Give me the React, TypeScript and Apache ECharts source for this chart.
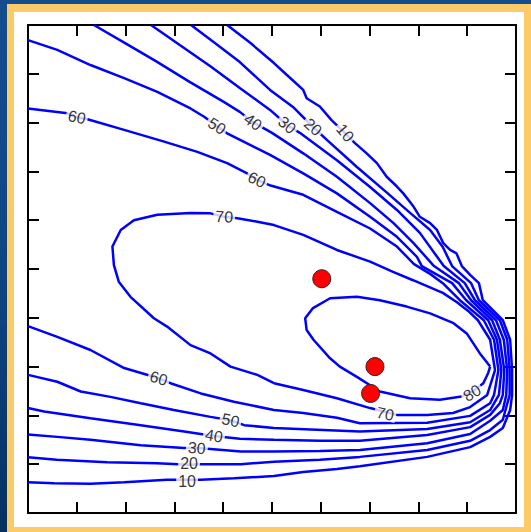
import React, { useEffect, useRef } from "react";
import * as echarts from "echarts";

// Contour polylines, [x, y] in plot units (0–10 on both axes)
const contour10: number[][] = [
  [4.08, 10.0], [4.56, 9.63], [5.04, 9.22], [5.3, 8.98], [5.64, 8.67], [5.71, 8.5], [5.98, 8.33], [6.22, 8.05],
  [6.46, 7.82], [6.7, 7.58], [6.94, 7.37], [7.15, 7.17], [7.35, 6.89], [7.56, 6.69], [7.69, 6.55], [7.9, 6.28],
  [8.03, 6.07], [8.24, 5.94], [8.38, 5.8], [8.51, 5.53], [8.65, 5.39], [8.78, 5.32], [8.89, 5.06], [9.06, 4.88],
  [9.24, 4.71], [9.32, 4.36], [9.73, 3.95], [9.88, 3.55], [9.92, 2.93], [9.92, 2.42], [9.88, 2.11], [9.73, 1.74],
  [9.47, 1.56], [9.06, 1.35], [8.18, 1.15], [6.8, 0.96], [6.33, 0.9], [5.64, 0.84], [5.04, 0.76], [4.22, 0.71],
  [3.54, 0.68], [2.85, 0.68], [1.97, 0.63], [1.28, 0.6], [0.53, 0.61], [0, 0.63],
];
const contour20: number[][] = [
  [3.34, 10.0], [3.83, 9.63], [4.34, 9.24], [4.96, 8.67], [5.43, 8.32], [5.84, 7.91], [6.13, 7.64], [6.74, 7.09],
  [7.36, 6.56], [7.83, 6.15], [8.24, 5.8], [8.5, 5.45], [8.69, 5.06], [9.08, 4.71], [9.24, 4.36], [9.67, 3.95],
  [9.82, 3.55], [9.87, 2.93], [9.87, 2.42], [9.73, 1.91], [9.47, 1.7], [9.06, 1.48], [8.18, 1.29], [6.8, 1.15],
  [5.98, 1.09], [5.04, 1.05], [4.36, 1.0], [3.54, 1.0], [3.3, 0.99], [2.64, 1.02], [1.62, 1.04], [0.59, 1.09], [0, 1.14],
];
const contour30: number[][] = [
  [2.52, 10.0], [3.11, 9.59], [3.73, 9.16], [4.34, 8.71], [4.96, 8.26], [5.31, 7.95], [5.57, 7.79], [6.33, 7.23],
  [7.01, 6.68], [7.56, 6.21], [8.03, 5.74], [8.52, 5.06], [8.95, 4.71], [9.16, 4.36], [9.59, 3.95], [9.75, 3.55],
  [9.82, 2.93], [9.8, 2.42], [9.73, 2.11], [9.47, 1.89], [9.06, 1.62], [8.18, 1.43], [6.8, 1.29], [5.98, 1.27],
  [5.04, 1.26], [4.36, 1.26], [3.74, 1.31], [3.46, 1.33], [3.2, 1.33], [2.31, 1.39], [1.28, 1.5], [0.6, 1.56], [0, 1.61],
];
const contour40: number[][] = [
  [1.35, 10.0], [1.99, 9.63], [2.62, 9.26], [3.32, 8.83], [4.02, 8.42], [4.34, 8.22], [4.61, 8.01], [5.0, 7.79],
  [5.64, 7.37], [6.33, 6.89], [7.01, 6.35], [7.49, 5.94], [7.9, 5.53], [8.32, 5.06], [8.83, 4.71], [9.08, 4.36],
  [9.51, 3.95], [9.67, 3.55], [9.76, 2.93], [9.73, 2.42], [9.67, 2.25], [9.47, 2.01], [9.06, 1.76], [8.18, 1.6],
  [6.8, 1.48], [5.98, 1.48], [5.04, 1.5], [4.34, 1.52], [3.81, 1.58], [3.2, 1.67], [2.31, 1.8], [1.28, 1.94],
  [0.33, 2.08], [0, 2.15],
];
const contour50: number[][] = [
  [0, 9.69], [0.6, 9.49], [1.28, 9.18], [1.97, 8.91], [2.65, 8.63], [3.33, 8.29], [3.61, 8.12], [3.87, 7.93],
  [4.08, 7.78], [4.56, 7.54], [4.96, 7.34], [5.64, 6.96], [6.33, 6.55], [7.01, 6.07], [7.56, 5.66], [7.97, 5.25],
  [8.07, 5.06], [8.69, 4.71], [8.98, 4.36], [9.43, 3.95], [9.61, 3.55], [9.7, 2.93], [9.65, 2.42], [9.47, 2.11],
  [9.06, 1.86], [8.18, 1.72], [6.8, 1.67], [5.04, 1.74], [4.43, 1.8], [4.15, 1.9], [3.74, 1.97], [2.99, 2.11],
  [2.31, 2.25], [1.69, 2.38], [1.08, 2.49], [0.6, 2.69], [0, 2.83],
];
const contour60: number[][] = [
  [0, 8.29], [0.81, 8.19], [1.0, 8.11], [1.22, 8.07], [1.97, 7.85], [2.79, 7.61], [3.47, 7.4], [4.08, 7.17],
  [4.49, 6.96], [4.69, 6.83], [4.97, 6.71], [5.64, 6.52], [6.33, 6.17], [7.01, 5.83], [7.56, 5.46], [7.91, 5.1],
  [8.24, 4.9], [8.5, 4.71], [8.85, 4.36], [9.34, 3.95], [9.55, 3.55], [9.64, 2.93], [9.55, 2.42], [9.47, 2.25],
  [9.06, 1.99], [8.18, 1.85], [6.8, 1.84], [6.33, 1.95], [5.64, 2.05], [5.04, 2.11], [4.22, 2.28], [3.54, 2.45],
  [2.92, 2.66], [2.68, 2.76], [1.97, 2.97], [1.28, 3.34], [0.6, 3.61], [0, 3.83],
];
const contour70: number[][] = [
  [5.04, 2.66], [4.7, 2.83], [4.15, 3.0], [3.74, 3.27], [3.33, 3.44], [2.85, 3.82], [2.58, 3.99], [2.1, 4.43],
  [1.86, 4.74], [1.76, 5.08], [1.73, 5.46], [1.9, 5.8], [2.17, 6.0], [2.65, 6.11], [3.33, 6.15], [3.74, 6.14],
  [4.02, 6.07], [4.29, 6.04], [4.7, 5.97], [5.04, 5.9], [5.64, 5.7], [6.33, 5.39], [7.01, 5.15], [7.48, 4.94],
  [7.89, 4.77], [8.5, 4.51], [8.79, 4.32], [9.02, 4.14], [9.22, 3.95], [9.47, 3.55], [9.57, 2.93], [9.41, 2.42],
  [9.06, 2.17], [8.71, 2.05], [8.18, 2.01], [7.56, 2.01], [7.01, 2.15], [6.33, 2.35], [5.64, 2.52], [5.04, 2.66],
];
const contour80: number[][] = [
  [9.47, 3.0], [9.26, 3.27], [8.99, 3.68], [8.72, 3.89], [8.24, 4.09], [7.76, 4.23], [7.21, 4.36], [6.74, 4.43],
  [6.19, 4.4], [5.84, 4.2], [5.68, 3.99], [5.71, 3.75], [5.85, 3.55], [6.19, 3.17], [6.39, 3.0], [6.74, 2.79],
  [7.21, 2.49], [7.83, 2.35], [8.44, 2.32], [8.85, 2.38], [9.1, 2.48], [9.33, 2.66], [9.43, 2.87], [9.47, 3.0],
];

// Contour labels
const labelTexts = ["60", "50", "40", "30", "20", "10", "60", "70", "60", "50", "40", "30", "20", "10", "70", "80"];
const labelPositions: number[][] = [
  [1.0, 8.11], [3.87, 7.93], [4.61, 8.01], [5.31, 7.95], [5.84, 7.91], [6.5, 7.79], [4.69, 6.83], [4.02, 6.07],
  [2.68, 2.76], [4.15, 1.9], [3.81, 1.58], [3.46, 1.33], [3.3, 1.02], [3.26, 0.64], [7.32, 2.03], [9.1, 2.46],
];
const labelAngles = [-12, -32, -35, -40, -42, -50, -25, -3, -15, -12, -10, -5, 0, 0, -12, 30];

// Measurement points (red dots)
const dotPoints: number[][] = [[6.02, 4.8], [7.11, 3.0], [7.02, 2.45]];

const contours = [contour10, contour20, contour30, contour40, contour50, contour60, contour70, contour80];

export default function App() {
  const ref = useRef<HTMLDivElement>(null);
  useEffect(() => {
    if (!ref.current) return;
    const chart = echarts.init(ref.current, null, { renderer: "svg" });
    const axisCommon: any = {
      type: "value",
      min: 0,
      max: 10,
      interval: 1,
      axisLabel: { show: false },
      splitLine: { show: false },
      axisLine: { show: true, onZero: false, lineStyle: { color: "#000", width: 2 } },
      axisTick: { show: true, inside: true, length: 11, lineStyle: { color: "#000", width: 2 } },
    };
    chart.setOption({
      animation: false,
      grid: { left: 28, top: 25, width: 488, height: 488 },
      xAxis: [
        { ...axisCommon, position: "bottom" },
        { ...axisCommon, position: "top" },
      ],
      yAxis: [
        { ...axisCommon, position: "left" },
        { ...axisCommon, position: "right" },
      ],
      series: [
        ...contours.map((c) => ({
          type: "line",
          data: c,
          showSymbol: false,
          symbol: "none",
          silent: true,
          lineStyle: { color: "#0000ff", width: 2.5 },
          z: 2,
        })),
        {
          type: "scatter",
          symbolSize: 1,
          silent: true,
          itemStyle: { color: "rgba(0,0,0,0)" },
          z: 5,
          label: {
            show: true,
            position: "inside",
            formatter: "{b}",
            fontSize: 16,
            lineHeight: 14,
            fontFamily: "'Liberation Sans', Arial, sans-serif",
            color: "#000",
            backgroundColor: "#fff",
            padding: [0, 2],
          },
          data: labelPositions.map((p, i) => ({
            name: labelTexts[i],
            value: p,
            label: { rotate: labelAngles[i] },
          })),
        },
        {
          type: "scatter",
          symbolSize: 18,
          silent: true,
          z: 6,
          itemStyle: { color: "#ff0000", opacity: 1, borderColor: "#3a2020", borderWidth: 1 },
          data: dotPoints,
        },
      ],
    });
    return () => chart.dispose();
  }, []);
  return (
    <div
      style={{
        position: "fixed",
        left: 0,
        top: 0,
        width: 531,
        height: 532,
        background: "linear-gradient(to bottom, #144d8e 0%, #0f4481 55%, #07305f 100%)",
        overflow: "hidden",
      }}
    >
      <div style={{ position: "absolute", left: 7, top: 4, right: 0, bottom: 0, background: "#fccb68" }} />
      <div style={{ position: "absolute", left: 14, top: 12, width: 510, height: 515, background: "#fff" }} />
      <div ref={ref} style={{ position: "absolute", left: 0, top: 0, width: 531, height: 532 }} />
    </div>
  );
}
